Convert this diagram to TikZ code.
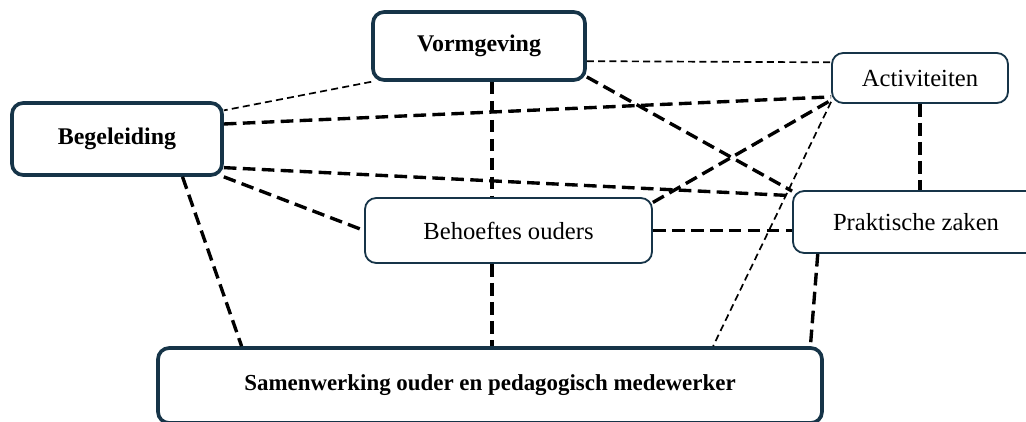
\documentclass[tikz,border=0pt]{standalone}
\usepackage{fontspec}
\setmainfont{Liberation Serif}
\definecolor{kader}{RGB}{22,52,72}
\begin{document}
\begin{tikzpicture}[
    hoofd/.style={rectangle, draw=kader, line width=2.6pt, rounded corners=0.28cm, fill=white, align=center, font=\fontsize{17}{20}\selectfont\bfseries},
    thema/.style={rectangle, draw=kader, line width=1.3pt, rounded corners=0.28cm, fill=white, align=center, font=\fontsize{17.5}{20}\selectfont},
    dik/.style={line width=2.4pt, dash pattern=on 9pt off 4.5pt},
    dun/.style={line width=1.2pt, dash pattern=on 5pt off 3pt},
    ]
    \useasboundingbox (0,0) rectangle (25.65,10.525);

    % Hoofdthema's
    \node[hoofd, minimum width=5.3cm, minimum height=1.7cm] (vorm) at (11.975,9.375) {Vormgeving};
    \node[hoofd, minimum width=5.25cm, minimum height=1.8cm] (begel) at (2.925,7.05) {Begeleiding};
    \node[hoofd, minimum width=16.6cm, minimum height=1.875cm, font=\fontsize{16.3}{20}\selectfont\bfseries] (samen) at (12.25,0.8875) {Samenwerking ouder en pedagogisch medewerker};

    % Subthema's
    \node[thema, minimum width=4.4cm, minimum height=1.25cm] (acti) at (23.0,8.575) {Activiteiten};
    \node[thema, minimum width=7.175cm, minimum height=1.625cm] (behoef) at (12.7125,4.7625) {Behoeftes ouders};
    \node[thema, minimum width=6.15cm, minimum height=1.55cm] (prak) at (22.9,4.975) {Praktische zaken};

    % Vormgeving
    \draw[dun] (vorm.south west) -- (begel.15);
    \draw[dun] (vorm.-8.6) -- (acti.170);
    \draw[dik] (vorm.-70) -- (vorm.-70 |- behoef.north);
    \draw[dik] (vorm.-16) -- (prak.166);

    % Begeleiding
    \draw[dik] (begel.8.7) -- (acti.192);
    \draw[dik] (begel.-15.4) -- (prak.168);
    \draw[dik] (begel.south east) -- (behoef.west);
    \draw[dik] (begel.-30) -- (samen.171);

    % Behoeftes ouders
    \draw[dik] (behoef.11) -- (acti.194);
    \draw[dik] (behoef.east) -- (behoef.east -| prak.west);
    \draw[dik] (vorm.-70 |- behoef.south) -- (vorm.-70 |- samen.north);

    % Activiteiten en Praktische zaken
    \draw[dik] (acti.south) -- (acti.south |- prak.north);
    \draw[dun] (acti.195) -- (samen.10.7);
    \draw[dik] (prak.198) -- (samen.7);

\end{tikzpicture}
\end{document}
